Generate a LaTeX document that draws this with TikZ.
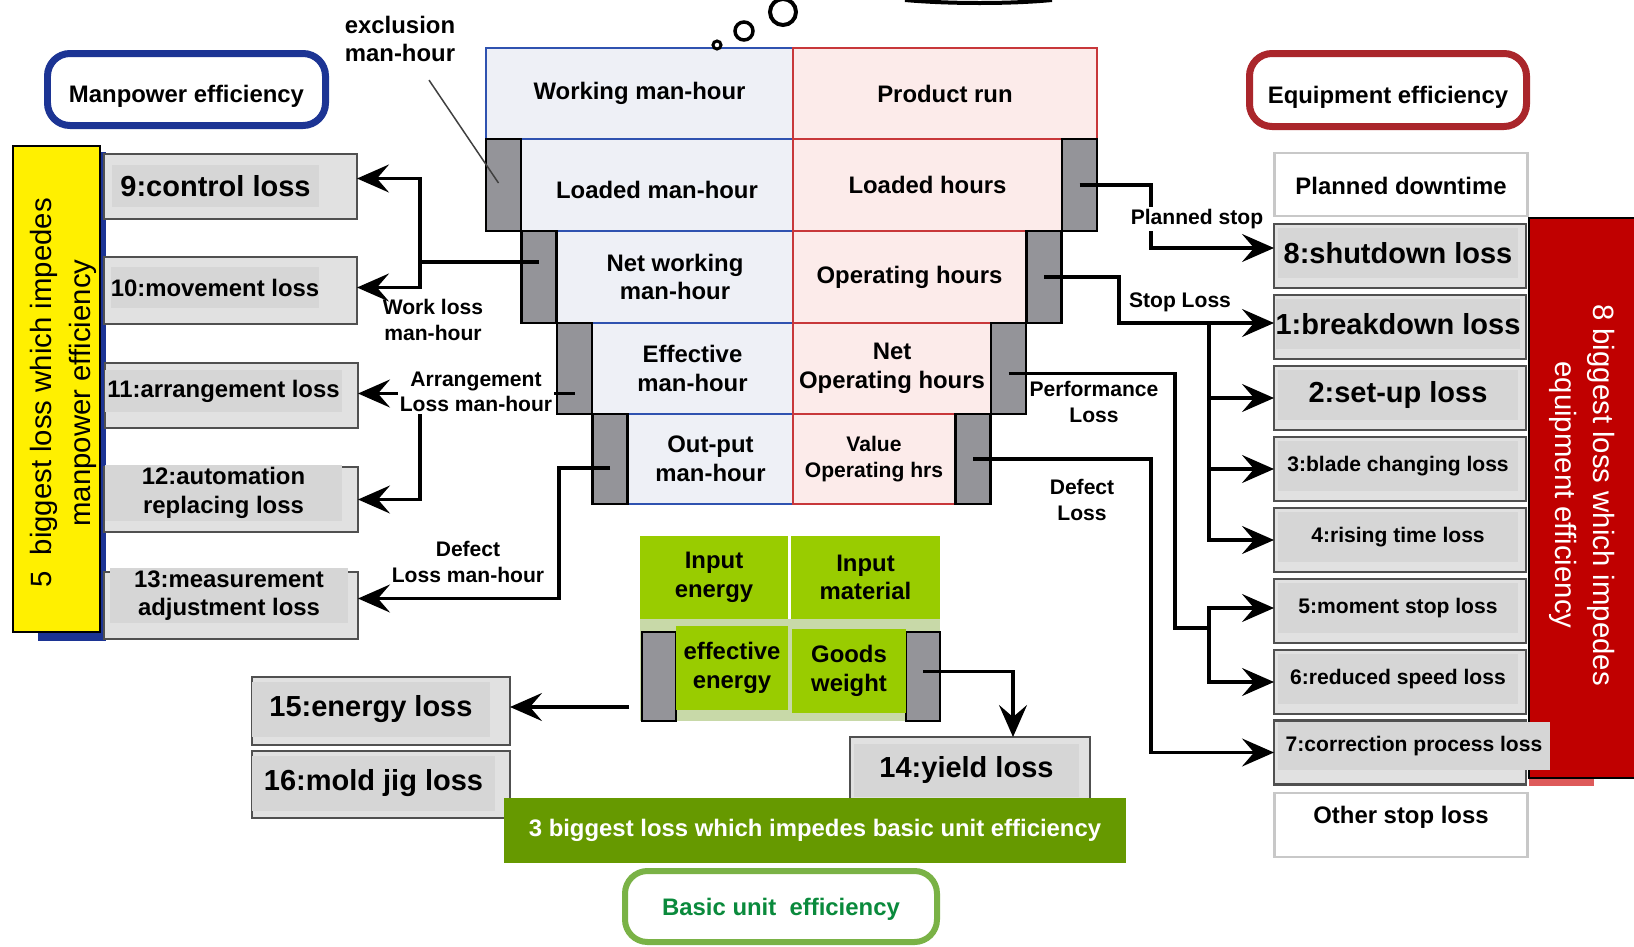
\documentclass[tikz,border=0pt]{standalone}
\usepackage{fontspec}
\setmainfont{Liberation Sans}
\usetikzlibrary{arrows.meta,calc}

\definecolor{manblue}{RGB}{28,52,148}
\definecolor{barYellow}{RGB}{255,240,0}
\definecolor{eqred}{RGB}{170,38,43}
\definecolor{barred}{RGB}{192,0,0}
\definecolor{barshade}{RGB}{222,90,90}
\definecolor{cellblue}{RGB}{238,240,246}
\definecolor{lineblue}{RGB}{47,82,176}
\definecolor{cellpink}{RGB}{252,235,234}
\definecolor{linered}{RGB}{200,55,58}
\definecolor{tabgray}{RGB}{148,148,153}
\definecolor{boxgray}{RGB}{225,225,225}
\definecolor{boxinner}{RGB}{214,214,214}
\definecolor{boxline}{RGB}{80,80,80}
\definecolor{paleline}{RGB}{200,200,200}
\definecolor{energygreen}{RGB}{153,204,0}
\definecolor{stripgreen}{RGB}{200,217,168}
\definecolor{bannergreen}{RGB}{102,153,0}
\definecolor{basicline}{RGB}{122,178,70}
\definecolor{basictext}{RGB}{10,138,60}

\newcommand{\px}{0.02cm}
\newcommand{\bigsize}{\fontsize{16.5}{19}\selectfont}

\begin{document}
\begin{tikzpicture}[x=0.02cm, y=-0.02cm,
  txt/.style={font=\bfseries\fontsize{13.6}{16.3}\selectfont, align=center, inner sep=0pt, outer sep=0pt},
  boxsize/.style 2 args={minimum width=#1*\px, minimum height=#2*\px},
  textdown/.style={text height=#1, text depth=3pt},
  cellL/.style={txt, fill=cellblue, draw=lineblue, line width=0.3mm},
  cellR/.style={txt, fill=cellpink, draw=linered, line width=0.3mm},
  losstab/.style={fill=tabgray, draw=black, line width=0.45mm, inner sep=0pt, outer sep=0pt, minimum width=35*\px},
  lossbox/.style={fill=boxgray, draw=boxline, line width=0.55mm, inner sep=0pt, outer sep=0pt},
  lossin/.style={txt, fill=boxinner},
  plainbox/.style={txt, fill=white, draw=paleline, line width=0.55mm},
  effbox/.style={txt, fill=white, rounded corners=4.5mm, line width=1.4mm},
  greencell/.style={txt, fill=energygreen},
  note/.style={txt, font=\bfseries\fontsize{12}{14.6}\selectfont},
  bigtxt/.style={font=\bfseries\bigsize},
  smalltxt/.style={font=\bfseries\fontsize{12}{14.5}\selectfont},
  sidetxt/.style={font=\fontsize{16.7}{22}\selectfont, align=center, inner sep=0pt},
  conn/.style={line width=0.65mm, draw=black},
  bigtip/.tip={Stealth[length=6.4mm, width=5.6mm, inset=2.4mm]}]

\useasboundingbox (0,0) rectangle (1634,947);

% titles
\node[effbox, draw=manblue, textdown=18pt, boxsize={278}{72}] (manEff) at (186.5,89.5) {Manpower efficiency};
\node[effbox, draw=eqred, textdown=18pt, boxsize={277}{73}] (eqEff) at (1388,90) {Equipment efficiency};
\node[effbox, draw=basicline, line width=1.2mm, text=basictext, textdown=13.5pt, boxsize={312}{71}] (basicEff) at (781,906.5) {Basic unit~ efficiency};

% manpower side
\fill[manblue] (38,152) rectangle (106,641);
\node[draw=black, line width=0.4mm, fill=barYellow, boxsize={87}{486}, inner sep=0pt] (mpBar) at (56.5,389) {};
\node[sidetxt, rotate=90] (mpText) at (63.5,393) {5\ \ biggest loss which impedes\\manpower efficiency};

\node[lossbox, boxsize={253}{65}] (l9) at (230.5,186.5) {};
\node[lossin, bigtxt, boxsize={207}{42}] (l9t) at (215.5,186) {9:control loss};
\node[lossbox, boxsize={253}{67}] (l10) at (230.5,290.5) {};
\node[lossin, boxsize={208}{41}] (l10t) at (215,287.5) {10:movement loss};
\node[lossbox, boxsize={253}{65}] (l11) at (231.5,395.5) {};
\node[lossin, boxsize={237}{42}] (l11t) at (223.5,391) {11:arrangement loss};
\node[lossbox, boxsize={254}{65}] (l12) at (231,499.5) {};
\node[lossin, boxsize={237}{56}] (l12t) at (223.5,493) {12:automation\\replacing loss};
\node[lossbox, boxsize={254}{67}] (l13) at (231,605.5) {};
\node[lossin, boxsize={238}{55}] (l13t) at (229,595.5) {13:measurement\\adjustment loss};

% central stack
\node[cellL, boxsize={307}{91}] (wmh) at (639.5,93.5) {Working man-hour};
\node[cellL, textdown=18pt, boxsize={272}{92}] (lmh) at (657,185) {Loaded man-hour};
\node[cellL, boxsize={236}{92}] (nwmh) at (675,277) {Net working\\man-hour};
\node[cellL, boxsize={201}{91}] (emh) at (692.5,368.5) {Effective\\man-hour};
\node[cellL, boxsize={165}{90}] (omh) at (710.5,459) {Out-put\\man-hour};
\node[cellR, boxsize={304}{91}] (prun) at (945,93.5) {Product run};
\node[cellR, boxsize={269}{92}] (lhrs) at (927.5,185) {Loaded hours};
\node[cellR, boxsize={233}{92}] (ophrs) at (909.5,277) {Operating hours};
\node[cellR, boxsize={198}{91}] (nophrs) at (892,368.5) {Net\\Operating hours};
\node[cellR, smalltxt, boxsize={162}{90}] (vophrs) at (874,459) {Value\\Operating hrs};

\foreach \k/\xl/\xr/\y/\h in {2/503.5/1079.5/185/92, 3/539/1044/277/92, 4/574.5/1008.5/368.5/91, 5/610/973/459/90}{
  \node[losstab, minimum height=\h*\px] (tL\k) at (\xl,\y) {};
  \node[losstab, minimum height=\h*\px] (tR\k) at (\xr,\y) {};
}

% thought bubble
\draw[line width=0.6mm, fill=white] (717,45) circle [radius=4];
\draw[line width=0.7mm] (744,31) circle [radius=9];
\draw[line width=0.8mm] (783,12) circle [radius=13];
\draw[line width=0.8mm] (905,0) .. controls (950,4) and (1010,4) .. (1052,0);

\node[txt] (excl) at (400,39) {exclusion\\man-hour};
\draw[line width=0.3mm, black!75] ($(excl.south)+(29,18)$) -- ($(tL2.center)+(-5,-2)$);

% equipment side
\fill[barshade] (1529,776) rectangle (1594,786);
\node[fill=barred, draw=black, line width=0.4mm, boxsize={110}{560}, inner sep=0pt] (eqBar) at (1584,498) {};
\node[sidetxt, text=white, rotate=-90] (eqText) at (1582,495) {8 biggest loss which impedes\\equipment efficiency};

\node[plainbox, textdown=14.5pt, boxsize={253}{63}] (pdt) at (1401,184.5) {Planned downtime};
\foreach \n/\y/\t in {r8/256/{\bigsize 8:shutdown loss}, r1/327/{\bigsize 1:breakdown loss}, r2/398/{\bigsize 2:set-up loss}, r3/469/{3:blade changing loss}, r4/540/{4:rising time loss}, r5/611/{5:moment stop loss}, r6/682/{6:reduced speed loss}}{
  \node[lossbox, boxsize={252}{64}] (\n) at (1400,\y) {};
  \node[lossin, smalltxt, boxsize={240}{50}] (\n-in) at (1398,\y-3) {\t};
}
\node[lossbox, boxsize={252}{64}] (r7) at (1400,752.5) {};
\node[lossin, smalltxt, boxsize={272}{48}] (r7-in) at (1414,746) {7:correction process loss};
\node[plainbox, text height=10pt, text depth=12pt, boxsize={253}{64}] (osl) at (1401,825) {Other stop loss};

% basic unit
\fill[stripgreen] (640,619) rectangle (940,721);
\node[greencell, boxsize={148}{83}] (inEn) at (714,577.5) {Input\\energy};
\node[greencell, boxsize={149}{83}] (inMat) at (865.5,577.5) {Input\\material};
\node[losstab, minimum height=89*\px, minimum width=34*\px] (eL) at (659,676.5) {};
\node[losstab, minimum height=89*\px, minimum width=34*\px] (eR) at (923,676.5) {};
\node[greencell, boxsize={112}{84}] (effEn) at (732,668) {effective\\energy};
\node[greencell, boxsize={114}{84}] (goods) at (849,671) {Goods\\weight};

\node[lossbox, boxsize={258}{68}] (l15) at (381,711) {};
\node[lossin, bigtxt, boxsize={238}{55}] (l15t) at (371,709) {15:energy loss};
\node[lossbox, boxsize={258}{67}] (l16) at (381,784.5) {};
\node[lossin, bigtxt, boxsize={243}{55}] (l16t) at (373.5,783) {16:mold jig loss};
\node[lossbox, boxsize={240}{63}] (l14) at (970,768.5) {};
\node[lossin, bigtxt, boxsize={225}{53}] (l14t) at (966.5,770) {14:yield loss};

\node[txt, fill=bannergreen, text=white, boxsize={622}{65}] (banner) at (815,830) {3 biggest loss which impedes basic unit efficiency};

% manpower losses
\coordinate (wlBus) at (420,262);
\draw[conn] ($(tL3.center)+(0,-15)$) -- (wlBus);
\draw[conn,-bigtip] (wlBus) |- ($(l9.east)+(0,-8)$);
\draw[conn,-bigtip] (wlBus) |- ($(l10.east)+(0,-3)$);
\draw[conn,-bigtip] ($(tL4.center)+(0,25)$) coordinate (alOut) -- (alOut -| l11.east);
\draw[conn,-bigtip] (alOut -| wlBus) |- (l12.east);
\draw[conn,-bigtip] ($(tL5.center)+(0,9)$) -- (559,468) |- ($(l13.east)+(0,-7)$);

\node[note] (wl) at (433,320) {Work loss\\man-hour};
\node[note, fill=white, inner sep=1pt] (al) at (476,392) {Arrangement\\Loss man-hour};
\node[note] (dl) at (468,562) {Defect\\Loss man-hour};

% equipment losses
\coordinate (stopBus) at (1209,323);
\draw[conn,-bigtip] (tR2.center) -- (1151,185) |- ($(r8.west)+(0,-8)$);
\draw[conn,-bigtip] (tR3.center) -- (1119,277) |- ($(r1.west)+(0,-4)$);
\draw[conn,-bigtip] (stopBus) |- (r4.west);
\draw[conn,-bigtip] (r2.west -| stopBus) -- (r2.west);
\draw[conn,-bigtip] (r3.west -| stopBus) -- (r3.west);
\draw[conn] ($(tR4.center)+(0,5)$) -| (1175,628) -- (1209,628);
\draw[conn,-bigtip] (1209,628) |- ($(r5.west)+(0,-3)$);
\draw[conn,-bigtip] (1209,628) |- (r6.west);
\draw[conn,-bigtip] (tR5.center) -- (1151,459) |- (r7.west);

\node[note, fill=white, inner sep=1pt] (ps) at (1197,219) {Planned stop};
\node[note] (sl) at (1180,302) {Stop Loss};
\node[note] (pl) at (1094,402) {Performance\\Loss};
\node[note] (dr) at (1082,500) {Defect\\Loss};

% basic unit losses
\coordinate (enOut) at (629,707);
\draw[conn,-bigtip] (enOut) -- (enOut -| l15.east);
\draw[conn,-bigtip] ($(eR.center)+(0,-5)$) -| ($(l14.north)+(43,0)$);
\end{tikzpicture}
\end{document}
